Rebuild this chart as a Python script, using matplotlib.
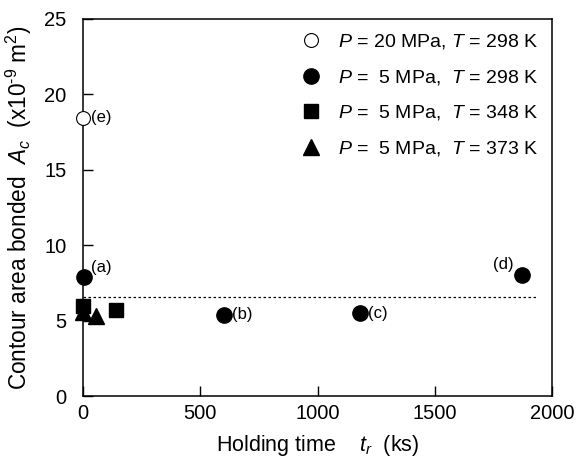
import matplotlib
matplotlib.use("Agg")
import matplotlib.pyplot as plt

plt.rcParams['font.family'] = ['Liberation Sans', 'DejaVu Sans']
plt.rcParams['mathtext.fontset'] = 'custom'
plt.rcParams['mathtext.rm'] = 'Liberation Sans'
plt.rcParams['mathtext.it'] = 'Liberation Sans:italic'

# Data
open_t = [0]
open_A = [18.4]
circ_t = [5, 600, 1180, 1870]
circ_A = [7.9, 5.4, 5.5, 8.0]
sq_t = [0, 140]
sq_A = [6.0, 5.7]
tri_t = [0, 55]
tri_A = [5.6, 5.3]
ref_level = 6.6
ref_span = [0, 1940]
labels = ["(a)", "(b)", "(c)", "(d)"]

fig = plt.figure(figsize=(5.77, 4.59), dpi=100)
ax = fig.add_axes([0.144, 0.137, 0.813, 0.822])

ax.plot(ref_span, [ref_level, ref_level], linestyle=(0, (2, 2)), color='black', lw=0.9, zorder=1)
ax.plot(tri_t, tri_A, linestyle='none', marker='^', ms=11, color='black',
        label=r'$P$ =  5 MPa,  $T$ = 373 K', zorder=3, clip_on=False)
ax.plot(sq_t, sq_A, linestyle='none', marker='s', ms=10.5, color='black',
        label=r'$P$ =  5 MPa,  $T$ = 348 K', zorder=4, clip_on=False)
ax.plot(circ_t, circ_A, linestyle='none', marker='o', ms=11, color='black',
        label=r'$P$ =  5 MPa,  $T$ = 298 K', zorder=4, clip_on=False)
ax.plot(open_t, open_A, linestyle='none', marker='o', ms=10, mfc='white', mec='black', mew=0.8,
        label=r'$P$ = 20 MPa, $T$ = 298 K', zorder=4, clip_on=False)

# annotations
fs_ann = 12
ax.annotate("(e)", (open_t[0], open_A[0]), xytext=(6, 1), textcoords='offset points',
            va='center', ha='left', fontsize=fs_ann)
ax.annotate(labels[0], (circ_t[0], circ_A[0]), xytext=(5, 7), textcoords='offset points',
            va='center', ha='left', fontsize=fs_ann)
ax.annotate(labels[1], (circ_t[1], circ_A[1]), xytext=(6, 0), textcoords='offset points',
            va='center', ha='left', fontsize=fs_ann)
ax.annotate(labels[2], (circ_t[2], circ_A[2]), xytext=(6, 0), textcoords='offset points',
            va='center', ha='left', fontsize=fs_ann)
ax.annotate(labels[3], (circ_t[3], circ_A[3]), xytext=(-6, 8), textcoords='offset points',
            va='center', ha='right', fontsize=fs_ann)

ax.set_xlim(0, 2000)
ax.set_ylim(0, 25)
ax.set_xticks([0, 500, 1000, 1500, 2000])
ax.set_yticks([0, 5, 10, 15, 20, 25])
ax.tick_params(direction='in', length=7, width=1, labelsize=14.5)
ax.tick_params(axis='x', pad=6)
ax.tick_params(axis='y', pad=12)
for s in ax.spines.values():
    s.set_linewidth(1.1)

ax.set_xlabel(r'Holding time    $t_r$  (ks)', fontsize=15.5, labelpad=7)
ax.set_ylabel('Contour area bonded  $A_c$  (x10$^{\u2010 9}$ m$^2$)', fontsize=16.3)
ax.yaxis.label.set_verticalalignment('center')
ax.yaxis.set_label_coords(-0.136, 0.50)

h, l = ax.get_legend_handles_labels()
order = [3, 2, 1, 0]
ax.legend([h[i] for i in order], [l[i] for i in order], loc='upper right', frameon=False,
          fontsize=14, handletextpad=0.8, labelspacing=0.85, borderaxespad=0.3,
          handlelength=1.2, borderpad=0.4)

fig.savefig("out.png", dpi=100)
